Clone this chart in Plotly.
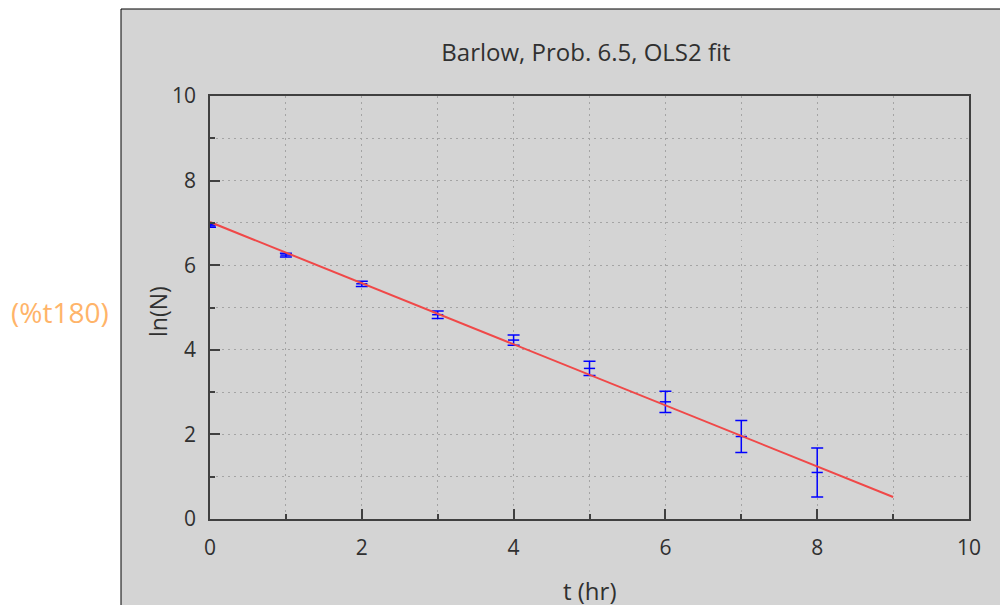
import plotly.graph_objects as go

# Data
t = [0, 1, 2, 3, 4, 5, 6, 7, 8]
lnN = [6.93, 6.24, 5.56, 4.83, 4.23, 3.56, 2.77, 1.95, 1.10]
err = [0.03, 0.045, 0.062, 0.09, 0.12, 0.17, 0.25, 0.38, 0.58]
fit_t = [0, 9]
fit_y = [7.02, 0.52]

title_text = "Barlow, Prob. 6.5, OLS2 fit"
x_title = "t (hr)"
y_title = "ln(N)"
label_text = "(%t180)"

GRAY = "#d4d4d4"
FONT = "Open Sans"
TXT = "#303030"
GRID = "#a4a4a4"
GDASH = "1.5px,4.5px"

fig = go.Figure()
fig.add_trace(go.Scatter(
    x=t, y=lnN, mode="markers",
    marker=dict(symbol="line-ew", size=8, line=dict(color="#0000ff", width=1.5), color="#0000ff"),
    error_y=dict(type="data", array=err, visible=True, color="#0000ff", thickness=1.5, width=6),
    showlegend=False,
))
fig.add_trace(go.Scatter(
    x=fit_t, y=fit_y, mode="lines",
    line=dict(color="#f04848", width=2),
    showlegend=False,
))

axis_common = dict(
    showline=True, mirror=True, linecolor="#404040", linewidth=1.5,
    ticks="inside", ticklen=10, tickcolor="#404040", tickwidth=1.5,
    showgrid=True, gridcolor=GRID, griddash=GDASH, gridwidth=1,
    zeroline=False, dtick=2, tick0=0, range=[0, 10],
    tickfont=dict(family=FONT, size=21, color=TXT),
    minor=dict(dtick=1, ticks="inside", ticklen=5, tickcolor="#404040",
               showgrid=True, gridcolor=GRID, griddash=GDASH, gridwidth=1),
)

fig.update_xaxes(ticklabelstandoff=9, **axis_common)
fig.update_yaxes(ticklabelstandoff=8, **axis_common)

# Plot area in figure px: x 202..961, y 88..511 (page is offset by 8px body margin)
def px(xf):
    return (xf - 202) / 759

def py(yf):
    return (511 - yf) / 423

fig.add_shape(type="rect", xref="paper", yref="paper",
              x0=px(113), x1=1.3, y0=-0.5, y1=py(1),
              fillcolor=GRAY, line=dict(color="#000000", width=1), layer="below")

fig.add_annotation(text=label_text, xref="paper", yref="paper",
                   x=px(52), y=py(304), showarrow=False,
                   font=dict(family=FONT, size=28, color="#ffb469"),
                   xanchor="center", yanchor="middle")
fig.add_annotation(text=y_title, xref="paper", yref="paper",
                   x=px(150), y=py(304), showarrow=False, textangle=-90,
                   font=dict(family=FONT, size=23, color=TXT),
                   xanchor="center", yanchor="middle")
fig.add_annotation(text=x_title, xref="paper", yref="paper",
                   x=px(581), y=py(582), showarrow=False,
                   font=dict(family=FONT, size=24, color=TXT),
                   xanchor="center", yanchor="middle")

fig.update_layout(
    width=1008, height=605,
    margin=dict(l=202, r=47, t=88, b=94),
    paper_bgcolor="white", plot_bgcolor=GRAY,
    title=dict(text=title_text, x=578 / 1008, xanchor="center", y=1 - 45 / 605, yanchor="middle",
               font=dict(family=FONT, size=24, color=TXT)),
)

fig.write_html("out.html")
